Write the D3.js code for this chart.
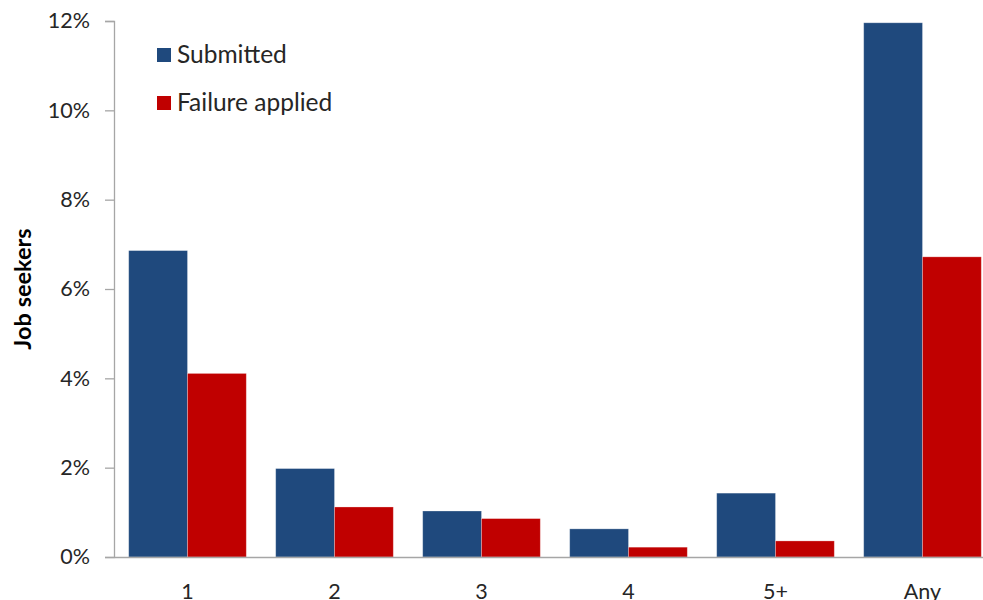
<!DOCTYPE html>
<html>
<head>
<meta charset="utf-8">
<script src="https://cdn.jsdelivr.net/npm/d3@7"></script>
<style>
  html, body { margin: 0; padding: 0; background: #fff; }
  svg { display: block; }
  text { font-family: Lato, "Open Sans", sans-serif; fill: #262626; }
</style>
</head>
<body>
<svg id="chart" width="983" height="600"></svg>
<script>
// Share of job seekers by number of sanctions (percent)
const categories = ["1", "2", "3", "4", "5+", "Any"];
const submitted = [6.86, 1.98, 1.03, 0.63, 1.43, 11.96];
const failureApplied = [4.11, 1.12, 0.86, 0.22, 0.36, 6.72];
const seriesNames = ["Submitted", "Failure applied"];
const seriesColors = ["#1F497D", "#C00000"];
const yTicks = [0, 2, 4, 6, 8, 10, 12];

const svg = d3.select("#chart");
const plotLeft = 114, plotRight = 996, plotTop = 21, plotBottom = 557;

const x = d3.scaleBand().domain(categories).range([plotLeft, plotRight])
  .paddingInner(0.2).paddingOuter(0.1);
const xs = d3.scaleBand().domain(seriesNames).range([0, x.bandwidth()]);
const y = d3.scaleLinear().domain([0, 12]).range([plotBottom, plotTop]);

const rows = categories.map((c, i) => ({ cat: c, vals: [submitted[i], failureApplied[i]] }));

// bars
const groups = svg.append("g").selectAll("g").data(rows).join("g")
  .attr("transform", d => `translate(${x(d.cat)},0)`);
groups.selectAll("rect")
  .data(d => d.vals.map((v, j) => ({ v, s: seriesNames[j], c: seriesColors[j] })))
  .join("rect")
  .attr("x", d => xs(d.s))
  .attr("width", xs.bandwidth())
  .attr("y", d => y(d.v))
  .attr("height", d => plotBottom - y(d.v))
  .attr("fill", d => d.c)
  .attr("stroke", "rgba(255,255,255,0.35)")
  .attr("stroke-width", 0.8);

// y axis
const yAxis = svg.append("g").attr("transform", `translate(${plotLeft},0)`)
  .call(d3.axisLeft(y).tickValues(yTicks).tickFormat(d => d + "%").tickSize(9).tickPadding(15));
yAxis.select(".domain").attr("stroke", "#a6a6a6").attr("stroke-width", 1.3);
yAxis.selectAll(".tick line").attr("stroke", "#a6a6a6").attr("stroke-width", 1.3);
yAxis.selectAll(".tick text").attr("font-size", 21.5).attr("fill", "#262626")
  .style("font-family", "Lato, 'Open Sans', sans-serif");

// x axis
const xAxis = svg.append("g").attr("transform", `translate(0,${plotBottom})`)
  .call(d3.axisBottom(x).tickSize(0).tickPadding(27));
xAxis.select(".domain").attr("stroke", "#a6a6a6").attr("stroke-width", 1.6);
xAxis.selectAll(".tick text").attr("font-size", 21.5).attr("fill", "#262626")
  .style("font-family", "Lato, 'Open Sans', sans-serif");

// y axis title
svg.append("text")
  .attr("transform", `translate(31,${(plotTop + plotBottom) / 2}) rotate(-90)`)
  .attr("text-anchor", "middle")
  .attr("font-size", 23.5)
  .attr("font-weight", "bold")
  .style("fill", "#000")
  .text("Job seekers");

// legend
const legend = svg.append("g").selectAll("g").data(seriesNames).join("g")
  .attr("transform", (d, i) => `translate(157,${48 + i * 48})`);
legend.append("rect").attr("width", 14).attr("height", 14)
  .attr("fill", (d, i) => seriesColors[i]);
legend.append("text").attr("x", 20).attr("y", 15)
  .attr("font-size", 24.5).text(d => d);
</script>
</body>
</html>
